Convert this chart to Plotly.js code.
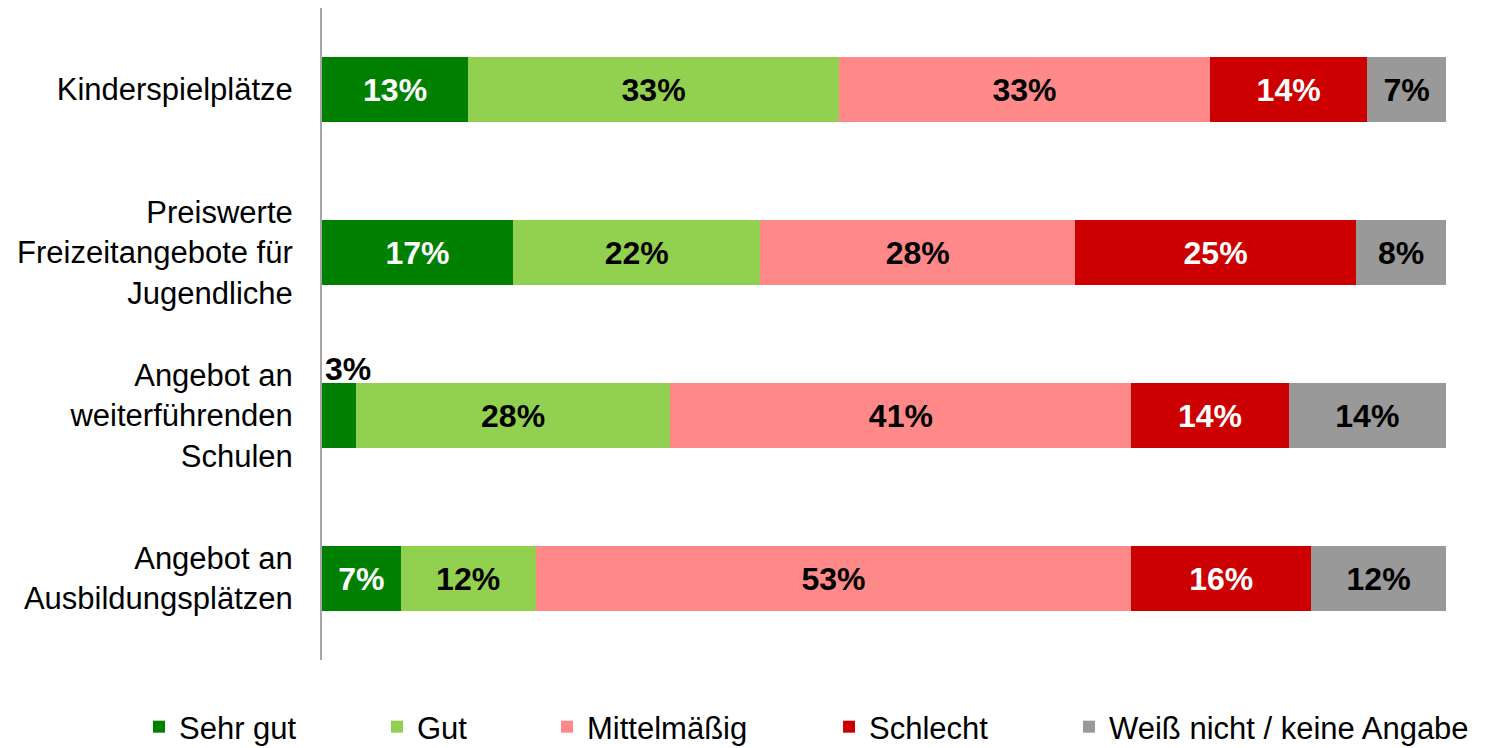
<!DOCTYPE html>
<html>
<head>
<meta charset="utf-8">
<script src="https://cdn.plot.ly/plotly-3.0.1.min.js"></script>
<style>html,body{margin:0;padding:0;background:#fff;}#chart{width:1487px;height:748px;}</style>
</head>
<body>
<div id="chart"></div>
<script>
const categories = [
  'Kinderspielplätze',
  'Preiswerte<br>Freizeitangebote für<br>Jugendliche',
  'Angebot an<br>weiterführenden<br>Schulen',
  'Angebot an<br>Ausbildungsplätzen'
];
const seriesNames = ['Sehr gut', 'Gut', 'Mittelmäßig', 'Schlecht', 'Weiß nicht / keine Angabe'];
const sehrGut = [13, 17, 3, 7];
const gut = [33, 22, 28, 12];
const mittelmaessig = [33, 28, 41, 53];
const schlecht = [14, 25, 14, 16];
const weissNicht = [7, 8, 14, 12];

const colors = ['#008000', '#92D050', '#FF8989', '#CC0000', '#999999'];
const labelColors = ['#ffffff', '#000000', '#000000', '#ffffff', '#000000'];
const seriesValues = [sehrGut, gut, mittelmaessig, schlecht, weissNicht];

const legendX = [-0.1628, 0.0489, 0.2002, 0.4511, 0.6646];
const FONT = 'Liberation Sans, Arial, sans-serif';

const traces = seriesValues.map((vals, i) => ({
  type: 'bar',
  orientation: 'h',
  name: seriesNames[i],
  y: categories,
  x: vals,
  marker: {color: colors[i], line: {width: 0}},
  width: 0.4,
  text: vals.map(v => v + '%'),
  texttemplate: '%{text}',
  textposition: vals.map(v => v < 5 ? 'none' : 'inside'),
  insidetextanchor: 'middle',
  textangle: 0,
  constraintext: 'none',
  textfont: {family: FONT, size: 32, color: labelColors[i], weight: 'bold'},
  hoverinfo: 'skip',
  legend: i === 0 ? 'legend' : 'legend' + (i + 1)
}));

// labels of bars too small to hold them: placed above the bar
const annotations = [];
seriesValues.forEach((vals, i) => {
  vals.forEach((v, j) => {
    if (v < 5) {
      let start = 0;
      for (let k = 0; k < i; k++) start += seriesValues[k][j];
      annotations.push({
        x: start, y: categories[j], xref: 'x', yref: 'y',
        text: '<b>' + v + '%</b>', showarrow: false,
        xanchor: 'left', yanchor: 'middle', yshift: 47, xshift: 1,
        font: {family: FONT, size: 32, color: '#000000'}
      });
    }
  });
});

const layout = {
  width: 1487, height: 748,
  paper_bgcolor: '#ffffff', plot_bgcolor: '#ffffff',
  margin: {l: 322, r: 41, t: 8, b: 88, autoexpand: false},
  barmode: 'stack',
  bargap: 0.6,
  font: {family: FONT, size: 31, color: '#000000'},
  xaxis: {range: [0, 100], visible: false, fixedrange: true, automargin: false},
  yaxis: {
    autorange: 'reversed', type: 'category', automargin: false,
    showline: true, linecolor: '#A6A6A6', linewidth: 2,
    showgrid: false, zeroline: false, ticks: '',
    ticklabelstandoff: 21,
    tickfont: {family: FONT, size: 31, color: '#000000'}
  },
  showlegend: true,
  annotations: annotations
};
legendX.forEach((lx, i) => {
  const key = i === 0 ? 'legend' : 'legend' + (i + 1);
  layout[key] = {
    orientation: 'h', x: lx, xanchor: 'left', y: -0.1028, yanchor: 'middle',
    font: {family: FONT, size: 31, color: '#000000'},
    bgcolor: 'rgba(0,0,0,0)', borderwidth: 0, itemclick: false, itemdoubleclick: false
  };
});

Plotly.newPlot('chart', traces, layout, {displayModeBar: false, staticPlot: true});
</script>
</body>
</html>
